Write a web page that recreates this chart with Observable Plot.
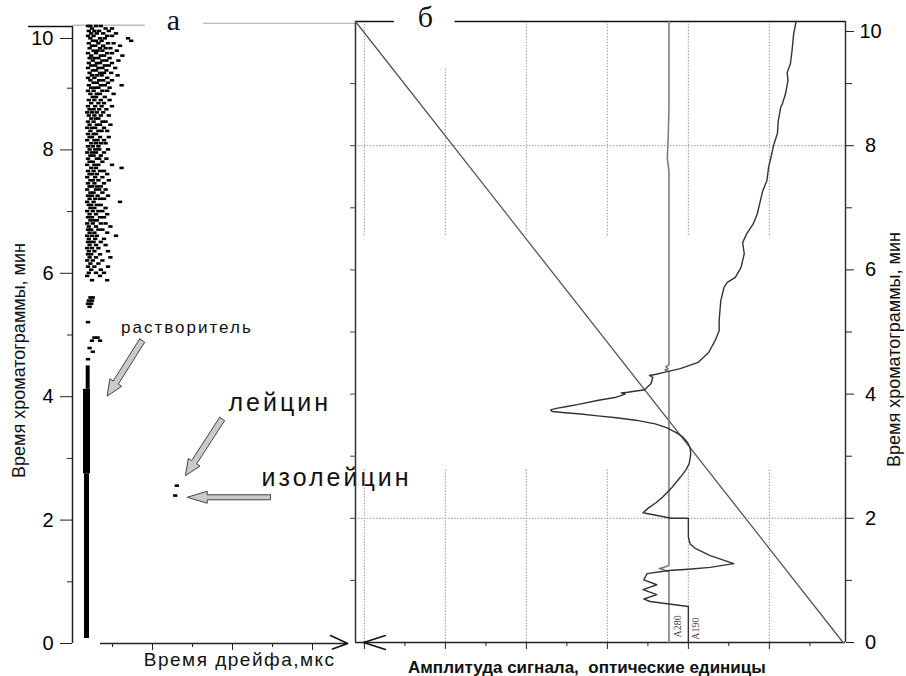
<!DOCTYPE html>
<html>
<head>
<meta charset="utf-8">
<script src="https://cdn.jsdelivr.net/npm/d3@7"></script>
<script src="https://cdn.jsdelivr.net/npm/@observablehq/plot@0.6"></script>
<style>
html, body { margin: 0; padding: 0; background: #fff; }
#wrap { position: relative; width: 906px; height: 676px; overflow: hidden; background: #fff; }
#wrap svg { position: absolute; left: 0; top: 0; }
svg text { white-space: pre; }
</style>
</head>
<body>
<div id="wrap"></div>
<script>
// ---------- DATA ----------
// Panel а: drift time (arbitrary units) vs chromatogram time (min)
const timeMajorTicks = [0, 2, 4, 6, 8];
const timeTopTick = [10];
const timeMinorTicks = [1, 3, 5, 7, 9];
const timeAllTicks = [1, 2, 3, 4, 5, 6, 7, 8, 9];
const driftMajorTicks = [1, 2, 3];
const driftMinorTicks = [0.5, 1.5, 2.5];
const ampMajorTicks = [0, 1, 2, 3, 4, 5];
const ampMinorTicks = [0.5, 1.5, 2.5, 3.5, 4.5, 5.5];

// solvent band: drift position, time from, time to
const solventBand = [
  {x: 0.175, y1: 0.08, y2: 2.75},
  {x: 0.175, y1: 2.75, y2: 4.12},
  {x: 0.19, y1: 4.12, y2: 4.5}
];

// scattered ions after the solvent: [time, [drift positions]]
const scatterRows = [
  [10.0, [0.2, 0.23, 0.3, 0.36]],
  [9.96, [0.25, 0.42, 0.5]],
  [9.92, [0.21, 0.28, 0.34, 0.46]],
  [9.88, [0.24, 0.31, 0.39, 0.55]],
  [9.84, [0.2, 0.27, 0.44, 0.5]],
  [9.8, [0.23, 0.35, 0.41, 0.7]],
  [9.76, [0.26, 0.3, 0.37, 0.74]],
  [9.72, [0.21, 0.33, 0.45, 0.52]],
  [9.68, [0.25, 0.29, 0.39, 0.6]],
  [9.64, [0.22, 0.35, 0.42, 0.48]],
  [9.6, [0.27, 0.32, 0.38, 0.56]],
  [9.56, [0.2, 0.3, 0.44, 0.5]],
  [9.52, [0.24, 0.36, 0.4, 0.63]],
  [9.48, [0.22, 0.28, 0.33, 0.47]],
  [9.44, [0.26, 0.38, 0.43, 0.58]],
  [9.4, [0.21, 0.31, 0.35, 0.5]],
  [9.36, [0.24, 0.29, 0.41, 0.46]],
  [9.32, [0.2, 0.33, 0.38, 0.54]],
  [9.28, [0.26, 0.3, 0.43]],
  [9.24, [0.22, 0.35, 0.4, 0.49]],
  [9.2, [0.25, 0.31, 0.37, 0.57]],
  [9.16, [0.2, 0.28, 0.44]],
  [9.12, [0.23, 0.34, 0.39, 0.5]],
  [9.08, [0.27, 0.31, 0.45]],
  [9.04, [0.21, 0.36, 0.41, 0.62]],
  [9.0, [0.24, 0.29, 0.33, 0.47]],
  [8.95, [0.2, 0.27, 0.38, 0.44]],
  [8.9, [0.23, 0.31, 0.35, 0.52]],
  [8.85, [0.26, 0.3, 0.41]],
  [8.8, [0.21, 0.28, 0.36, 0.47]],
  [8.75, [0.24, 0.33, 0.4]],
  [8.7, [0.2, 0.29, 0.37, 0.5]],
  [8.65, [0.22, 0.27, 0.34, 0.43]],
  [8.6, [0.19, 0.25, 0.31, 0.39]],
  [8.55, [0.21, 0.28, 0.36, 0.46]],
  [8.5, [0.24, 0.3, 0.33]],
  [8.45, [0.2, 0.27, 0.38, 0.42]],
  [8.4, [0.22, 0.31, 0.35, 0.48]],
  [8.35, [0.19, 0.25, 0.29, 0.4]],
  [8.3, [0.23, 0.33, 0.37, 0.44]],
  [8.25, [0.2, 0.27, 0.3]],
  [8.2, [0.22, 0.25, 0.35, 0.46]],
  [8.15, [0.19, 0.28, 0.32, 0.4]],
  [8.1, [0.24, 0.3, 0.36, 0.42]],
  [8.05, [0.2, 0.26, 0.33]],
  [8.0, [0.22, 0.29, 0.34, 0.45]],
  [7.95, [0.19, 0.25, 0.3, 0.4]],
  [7.9, [0.23, 0.27, 0.36]],
  [7.85, [0.2, 0.31, 0.34, 0.43]],
  [7.8, [0.22, 0.26, 0.38]],
  [7.75, [0.19, 0.28, 0.33, 0.5]],
  [7.7, [0.24, 0.3, 0.62]],
  [7.65, [0.2, 0.27, 0.35, 0.4]],
  [7.6, [0.22, 0.25, 0.31, 0.44]],
  [7.55, [0.19, 0.29, 0.38]],
  [7.5, [0.23, 0.26, 0.33, 0.46]],
  [7.45, [0.2, 0.28, 0.4]],
  [7.4, [0.22, 0.25, 0.31, 0.36]],
  [7.35, [0.19, 0.3, 0.34, 0.42]],
  [7.3, [0.23, 0.27, 0.38]],
  [7.25, [0.2, 0.25, 0.32, 0.45]],
  [7.2, [0.22, 0.29, 0.35, 0.4]],
  [7.15, [0.19, 0.27, 0.6]],
  [7.1, [0.21, 0.24, 0.31, 0.36]],
  [7.05, [0.23, 0.28, 0.42]],
  [7.0, [0.19, 0.26, 0.33, 0.38]],
  [6.95, [0.22, 0.3, 0.44]],
  [6.9, [0.2, 0.25, 0.35, 0.4]],
  [6.85, [0.23, 0.28, 0.31]],
  [6.8, [0.19, 0.26, 0.36, 0.42]],
  [6.75, [0.21, 0.3, 0.48]],
  [6.7, [0.2, 0.24, 0.33, 0.38]],
  [6.65, [0.22, 0.28, 0.44]],
  [6.6, [0.19, 0.25, 0.31, 0.55]],
  [6.55, [0.21, 0.29, 0.4]],
  [6.5, [0.2, 0.23, 0.27, 0.36]],
  [6.45, [0.22, 0.3, 0.42]],
  [6.4, [0.19, 0.25, 0.33]],
  [6.35, [0.21, 0.28, 0.45]],
  [6.3, [0.2, 0.24, 0.35]],
  [6.25, [0.22, 0.3, 0.48]],
  [6.2, [0.19, 0.26, 0.38]],
  [6.15, [0.23, 0.33]],
  [6.1, [0.2, 0.28, 0.45]],
  [6.05, [0.24, 0.36]],
  [6.0, [0.21, 0.3, 0.4]],
  [5.95, [0.19, 0.35]],
  [5.88, [0.25, 0.44]],
  [5.6, [0.23, 0.26]],
  [5.55, [0.21, 0.25]],
  [5.5, [0.2, 0.24]],
  [5.45, [0.22]],
  [5.2, [0.2]],
  [4.95, [0.28, 0.32]],
  [4.9, [0.25, 0.35]],
  [4.78, [0.22]],
  [4.72, [0.26]],
  [4.6, [0.2]]
];
const driftScatter = scatterRows.flatMap(([t, xs]) => xs.map(x => [x, t]));

// leucine / isoleucine ions: [drift, time]
const peakDots = [[1.31, 2.55], [1.29, 2.39]];

// annotation arrows: tail -> tip, in [drift, time]
const solventArrow = [[0.871, 4.91], [0.434, 4.01]];
const leucineArrow = [[1.871, 3.64], [1.412, 2.72]];
const isoleucineArrow = [[2.475, 2.37], [1.434, 2.37]];
const driftChevron = [[3.225, 0.13], [3.44, 0], [3.25, -0.09]];

// Panel б: signal amplitude (optical units) vs chromatogram time (min)
const a190 = [
  [4.0, 0], [4.0, 0.58], [3.76, 0.62], [3.53, 0.66], [3.45, 0.70], [3.61, 0.77], [3.44, 0.85],
  [3.61, 0.93], [3.45, 1.01], [3.49, 1.11], [3.76, 1.16], [4.0, 1.18], [4.27, 1.21], [4.56, 1.27],
  [4.27, 1.40], [4.09, 1.51], [4.02, 1.59], [4.0, 1.70], [4.0, 2.0], [3.79, 2.0], [3.44, 2.09],
  [3.5, 2.16], [3.6, 2.25], [3.68, 2.34], [3.8, 2.5], [3.9, 2.66], [3.97, 2.78], [4.01, 2.88],
  [4.03, 3.04], [4.02, 3.14], [3.99, 3.22], [3.93, 3.31], [3.85, 3.38], [3.73, 3.46], [3.59, 3.52],
  [3.35, 3.58], [3.11, 3.62], [2.88, 3.65], [2.67, 3.68], [2.48, 3.70], [2.32, 3.72], [2.30, 3.745],
  [2.37, 3.77], [2.5, 3.80], [2.63, 3.83], [2.89, 3.9], [3.11, 3.95], [3.22, 4.0], [3.17, 4.02],
  [3.25, 4.03], [3.46, 4.07], [3.54, 4.17], [3.56, 4.27], [3.52, 4.3], [3.6, 4.32], [3.7, 4.35],
  [3.9, 4.41], [4.12, 4.51], [4.25, 4.67], [4.33, 4.86], [4.38, 5.02], [4.38, 5.19], [4.4, 5.5],
  [4.44, 5.72], [4.48, 5.8], [4.58, 5.88], [4.65, 6.04], [4.69, 6.26], [4.67, 6.44], [4.72, 6.58],
  [4.8, 6.74], [4.85, 6.9], [4.89, 7.12], [4.92, 7.28], [4.97, 7.44], [4.99, 7.65], [5.03, 7.87],
  [5.05, 8.0], [5.1, 8.2], [5.11, 8.4], [5.14, 8.62], [5.16, 8.67], [5.2, 8.84], [5.23, 9.05],
  [5.22, 9.18], [5.26, 9.32], [5.28, 9.53], [5.3, 9.8], [5.33, 10]
];
const a280 = [
  [3.76, 0], [3.76, 1.14], [3.70, 1.17], [3.64, 1.19], [3.72, 1.22], [3.76, 1.24], [3.76, 4.36],
  [3.71, 4.39], [3.75, 4.41], [3.72, 4.44], [3.76, 4.47], [3.76, 7.6], [3.74, 7.8], [3.75, 8.1],
  [3.76, 8.6], [3.76, 10]
];
const gradient = [[-0.11, 10], [5.91, 0]];
const gridTop = [
  {x: 0, y1: 6.55, y2: 10}, {x: 1, y1: 6.55, y2: 9.26}, {x: 2, y1: 6.55, y2: 10},
  {x: 3, y1: 6.55, y2: 10}, {x: 4, y1: 6.55, y2: 10}, {x: 5, y1: 6.55, y2: 10}
];
const gridBottom = [0, 1, 2, 3, 4, 5];
const gridH = [2, 8];
const ampChevron = [[0.26, 0.113], [-0.01, 0], [0.26, -0.113]];

// ---------- HELPERS ----------
const SANS = "Liberation Sans, Arial, Helvetica, sans-serif";
const SERIF = "Liberation Serif, Times New Roman, serif";
const X = d => d[0], Y = d => d[1];

function arrowPolygon(tail, tip, kx, ky, shaft, headW, headL) {
  const P = ([x, y]) => [x * kx, -y * ky];
  const [x0, y0] = P(tail), [x1, y1] = P(tip);
  const len = Math.hypot(x1 - x0, y1 - y0);
  const ux = (x1 - x0) / len, uy = (y1 - y0) / len;
  const nx = -uy, ny = ux;
  const bx = x1 - ux * headL, by = y1 - uy * headL;
  const pts = [
    [x0 + nx * shaft / 2, y0 + ny * shaft / 2],
    [bx + nx * shaft / 2, by + ny * shaft / 2],
    [bx + nx * headW / 2, by + ny * headW / 2],
    [x1, y1],
    [bx - nx * headW / 2, by - ny * headW / 2],
    [bx - nx * shaft / 2, by - ny * shaft / 2],
    [x0 - nx * shaft / 2, y0 - ny * shaft / 2],
    [x0 + nx * shaft / 2, y0 + ny * shaft / 2]
  ];
  return pts.map(([x, y]) => [x / kx, -y / ky]);
}
function label(s, x, y, opts) {
  return Plot.text([s], {x: () => x, y: () => y, text: d => d, fontFamily: SANS, fill: "#111", ...opts});
}

// ---------- PANEL а ----------
const LKX = 80, LKY = 61.7;
const arrowStyle = {x: X, y: Y, fill: "#cacaca", stroke: "#444", strokeWidth: 1};
const dash = {x1: d => d[0] - 0.027, x2: d => d[0] + 0.027, y1: d => d[1] - 0.021, y2: d => d[1] + 0.021, fill: "#000"};

const left = Plot.plot({
  width: 906, height: 676,
  marginLeft: 72, marginRight: 558.8, marginTop: 26, marginBottom: 33,
  x: {domain: [0, 3.44], label: null},
  y: {domain: [0, 10], label: null},
  style: {background: "transparent", fontFamily: SANS, overflow: "visible"},
  marks: [
    // top border
    Plot.ruleY([10], {x1: -0.55, x2: 0, stroke: "#111", strokeWidth: 1.3}),
    Plot.ruleY([10.02], {x1: 0, x2: 0.91, stroke: "#bbb", strokeWidth: 1.3}),
    Plot.ruleY([10.05], {x1: 1.64, x2: 3.54, stroke: "#bbb", strokeWidth: 1.3}),
    // axes
    Plot.ruleX([0], {y1: 0, y2: 10, stroke: "#222", strokeWidth: 1.5}),
    Plot.axisY({ticks: timeMajorTicks, anchor: "left", tickSize: 12, tickPadding: 7, fontSize: 20, stroke: "#222", label: null}),
    Plot.axisY({ticks: timeTopTick, anchor: "left", tickSize: 12, tickPadding: 7, fontSize: 20, stroke: "#222", label: null, dy: 12}),
    Plot.axisY({ticks: timeMinorTicks, anchor: "left", tickSize: 5, tickFormat: () => "", stroke: "#222", label: null}),
    Plot.ruleY([0], {x1: 0.35, x2: 3.44, stroke: "#222", strokeWidth: 1.5}),
    Plot.axisX({ticks: driftMajorTicks, anchor: "bottom", tickSize: 7, tickFormat: () => "", stroke: "#222", label: null}),
    Plot.axisX({ticks: driftMinorTicks, anchor: "bottom", tickSize: 4, tickFormat: () => "", stroke: "#222", label: null}),
    Plot.line(driftChevron, {x: X, y: Y, stroke: "#111", strokeWidth: 1.5}),
    // solvent band
    Plot.ruleX([solventBand[0]], {x: d => d.x, y1: d => d.y1, y2: d => d.y2, stroke: "#000", strokeWidth: 5}),
    Plot.ruleX([solventBand[1]], {x: d => d.x, y1: d => d.y1, y2: d => d.y2, stroke: "#000", strokeWidth: 7}),
    Plot.ruleX([solventBand[2]], {x: d => d.x, y1: d => d.y1, y2: d => d.y2, stroke: "#000", strokeWidth: 4}),
    // scatter
    Plot.rect(driftScatter, dash),
    Plot.rect(peakDots, dash),
    // arrows
    Plot.line(arrowPolygon(...solventArrow, LKX, LKY, 6, 14, 16), arrowStyle),
    Plot.line(arrowPolygon(...leucineArrow, LKX, LKY, 6, 14, 16), arrowStyle),
    Plot.line(arrowPolygon(...isoleucineArrow, LKX, LKY, 5, 12, 20), arrowStyle),
    // texts
    label("а", 1.2625, 10.1, {fontFamily: SERIF, fontSize: 30}),
    label("растворитель", 1.43, 5.12, {fontSize: 17}),
    label("лейцин", 1.95, 3.9, {fontSize: 25, textAnchor: "start"}),
    label("изолейцин", 2.3625, 2.68, {fontSize: 25, textAnchor: "start"}),
    label("Время дрейфа,мкс", 2.09, -0.26, {fontSize: 19}),
    label("Время хроматограммы, мин", -0.669, 4.587, {fontSize: 18, rotate: -90})
  ]
});

// ---------- PANEL б ----------
const gridStyle = {stroke: "#aaa", strokeWidth: 1.2, strokeDasharray: "1.5,1.5"};
const right = Plot.plot({
  width: 906, height: 676,
  marginLeft: 355, marginRight: 61, marginTop: 21, marginBottom: 34,
  x: {domain: [-0.11, 5.94], label: null},
  y: {domain: [0, 10], label: null},
  style: {background: "transparent", fontFamily: SANS, overflow: "visible"},
  marks: [
    // grid
    Plot.ruleX(gridTop, {x: d => d.x, y1: d => d.y1, y2: d => d.y2, ...gridStyle}),
    Plot.ruleX(gridBottom, {x: d => d, y1: 0, y2: 2.8, ...gridStyle}),
    Plot.ruleY(gridH, {y: d => d, x1: -0.11, x2: 5.94, ...gridStyle}),
    // frame
    Plot.ruleY([10], {x1: -0.11, x2: 0.37, stroke: "#111", strokeWidth: 1.3}),
    Plot.ruleY([10], {x1: 1.12, x2: 5.94, stroke: "#111", strokeWidth: 1.3}),
    Plot.ruleX([-0.11], {y1: 0, y2: 10, stroke: "#333", strokeWidth: 1.5}),
    Plot.ruleX([5.94], {y1: 0, y2: 10, stroke: "#333", strokeWidth: 1.5}),
    Plot.ruleY([0], {x1: -0.11, x2: 5.94, stroke: "#222", strokeWidth: 1.5}),
    Plot.axisY({ticks: timeAllTicks, anchor: "left", tickSize: 5, tickFormat: () => "", stroke: "#444", label: null}),
    Plot.axisY({ticks: timeMajorTicks, anchor: "right", tickSize: 8, tickPadding: 17, textAnchor: "middle", fontSize: 20, stroke: "#222", label: null}),
    Plot.axisY({ticks: timeTopTick, anchor: "right", tickSize: 8, tickPadding: 17, textAnchor: "middle", fontSize: 20, stroke: "#222", label: null, dy: 10}),
    Plot.axisY({ticks: timeMinorTicks, anchor: "right", tickSize: 6, tickFormat: () => "", stroke: "#222", label: null}),
    Plot.axisX({ticks: ampMajorTicks, anchor: "bottom", tickSize: 7, tickFormat: () => "", stroke: "#222", label: null}),
    Plot.axisX({ticks: ampMinorTicks, anchor: "bottom", tickSize: 4, tickFormat: () => "", stroke: "#222", label: null}),
    Plot.line(ampChevron, {x: X, y: Y, stroke: "#111", strokeWidth: 1.5}),
    // traces
    Plot.line(gradient, {x: X, y: Y, stroke: "#555", strokeWidth: 1.3}),
    Plot.line(a280, {x: X, y: Y, stroke: "#777", strokeWidth: 1.5}),
    Plot.line(a190, {x: X, y: Y, stroke: "#333", strokeWidth: 1.4}),
    label("A280", 3.864, 0.26, {fontFamily: SERIF, fontSize: 10, rotate: -90, fill: "#444"}),
    label("A190", 4.086, 0.225, {fontFamily: SERIF, fontSize: 10, rotate: -90, fill: "#444"}),
    // texts
    label("б", 0.753, 10.07, {fontFamily: SERIF, fontSize: 30}),
    label("Амплитуда сигнала,  оптические единицы", 2.747, -0.40, {fontSize: 17, fontWeight: "bold"}),
    label("Время хроматограммы, мин", 6.537, 4.718, {fontSize: 18, rotate: -90})
  ]
});

const wrap = document.getElementById("wrap");
wrap.append(left, right);

const spacing = {"растворитель": 2, "лейцин": 3, "изолейцин": 3, "Время дрейфа,мкс": 1.5};
d3.selectAll("#wrap svg text").each(function () {
  const t = this.textContent;
  if (spacing[t] != null) this.style.letterSpacing = spacing[t] + "px";
});
</script>
</body>
</html>
